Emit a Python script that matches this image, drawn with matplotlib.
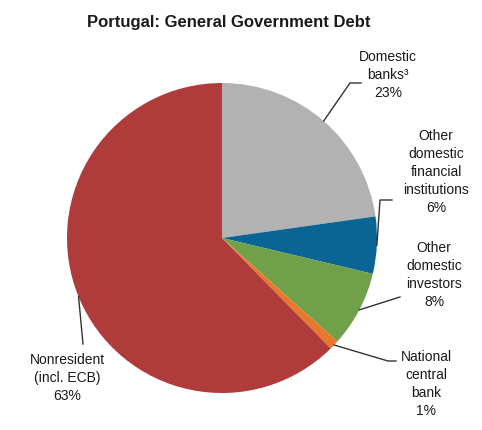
import numpy as np
import matplotlib
matplotlib.use('Agg')
import matplotlib.pyplot as plt

plt.rcParams['font.family'] = ['Liberation Sans', 'DejaVu Sans']

# Holders of Portuguese general government debt (% of total)
holders = ['Domestic\nbanks\u00b3', 'Other\ndomestic\nfinancial\ninstitutions',
           'Other\ndomestic\ninvestors', 'National\ncentral\nbank',
           'Nonresident\n(incl. ECB)']
shares = [23, 6, 8, 1, 63]
colors = ['#b2b2b2', '#0b6594', '#71a04b', '#e9782c', '#b03b3b']

# pie geometry in pixels (figure is 482x430)
W, H = 482, 430
CX, CY, R = 222, 238, 155


def px(x, y):
    # pixel position (from top-left) -> data coords, pie radius = 1
    return (x - CX) / R, (CY - y) / R


fig = plt.figure(figsize=(W / 100, H / 100), dpi=100)
ax = fig.add_axes([0, 0, 1, 1])
ax.axis('off')

wedges, _ = ax.pie(shares, colors=colors, startangle=90, counterclock=False,
                   radius=1, wedgeprops=dict(linewidth=0))
ax.set_xlim(-CX / R, (W - CX) / R)
ax.set_ylim(-(H - CY) / R, CY / R)
ax.set_aspect('equal')

# label text centre and leader path (pixel coords) for each slice
label_pos = [(388, 75), (436, 172), (434, 275), (426, 384), (67, 378)]
leader_pts = [[(350, 83), (361, 83)],
              [(380, 200), (392, 200)],
              [(400, 297)],
              [(388, 361), (396, 361)],
              [(83, 344)]]

for w, name, val, pos, pts in zip(wedges, holders, shares, label_pos, leader_pts):
    mid = np.deg2rad((w.theta1 + w.theta2) / 2)
    xs = [np.cos(mid)] + [px(*p)[0] for p in pts]
    ys = [np.sin(mid)] + [px(*p)[1] for p in pts]
    ax.plot(xs, ys, color='#333333', lw=1)
    tx, ty = px(*pos)
    ax.text(tx, ty, f'{name}\n{val}%', ha='center', va='center',
            fontsize=10, color='#1a1a1a', linespacing=1.35)

tx, ty = px(229, 22)
ax.text(tx, ty, 'Portugal: General Government Debt', ha='center', va='center',
        fontsize=12, fontweight='bold', color='#1a1a1a')

fig.savefig('out.png', dpi=100)
